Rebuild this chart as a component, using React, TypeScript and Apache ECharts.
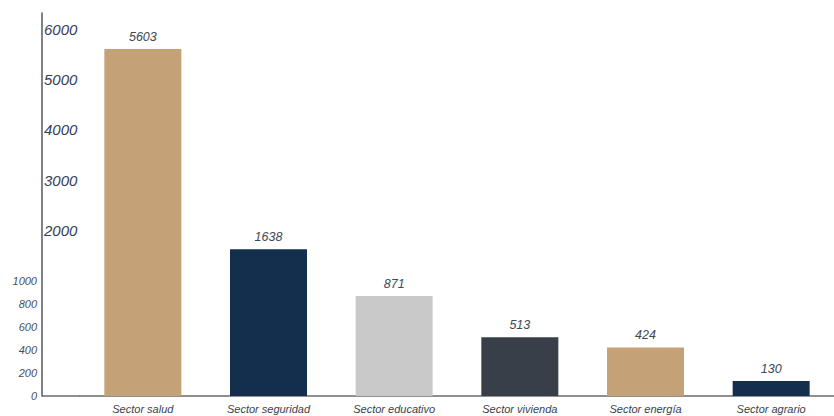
import React, { useEffect, useRef } from "react";
import * as echarts from "echarts";

const categories = [
  "Sector salud",
  "Sector seguridad",
  "Sector educativo",
  "Sector vivienda",
  "Sector energía",
  "Sector agrario",
];
const values = [5603, 1638, 871, 513, 424, 130];
const barColors = ["#C5A178", "#142F4E", "#C9C9C9", "#383F48", "#C5A178", "#142F4E"];
const lowerTicks = [0, 200, 400, 600, 800, 1000];
const upperTicks = [2000, 3000, 4000, 5000, 6000];

// broken scale: 0-1000 linear, above 1000 compressed
const BREAK = 1000;
const UPPER_FACTOR = 0.44;
const toAxis = (v: number) => (v <= BREAK ? v : BREAK + (v - BREAK) * UPPER_FACTOR);
const fromAxis = (t: number) => (t <= BREAK ? t : BREAK + (t - BREAK) / UPPER_FACTOR);

const AXIS_MAX = 3340;
const FONT = "'Liberation Sans Narrow', 'Liberation Sans', Arial, sans-serif";

export default function App() {
  const ref = useRef<HTMLDivElement>(null);
  useEffect(() => {
    document.body.style.margin = "0";
    if (!ref.current) return;
    const chart = echarts.init(ref.current, undefined, { renderer: "svg" });
    chart.setOption({
      animation: false,
      backgroundColor: "#ffffff",
      grid: { left: 80, width: 756, top: 13, bottom: 20 },
      xAxis: {
        type: "category",
        data: categories,
        axisLine: { show: true, lineStyle: { color: "#6b6b6b", width: 1.5 } },
        axisTick: { show: false },
        axisLabel: {
          color: "#3a3f4a",
          fontSize: 11,
          fontStyle: "italic",
          fontFamily: FONT,
          margin: 7,
          interval: 0,
        },
      },
      yAxis: [
        {
          type: "value",
          min: 0,
          max: AXIS_MAX,
          position: "left",
          offset: 38,
          axisLine: { show: true, lineStyle: { color: "#555a60", width: 1.5 } },
          axisTick: { show: false },
          splitLine: { show: false },
          axisLabel: {
            customValues: lowerTicks.map(toAxis),
            formatter: (v: number) => String(Math.round(fromAxis(v))),
            color: "#4a4e5a",
            fontSize: 11,
            fontStyle: "italic",
            fontFamily: FONT,
            margin: 5,
          },
        },
        {
          type: "value",
          min: 0,
          max: AXIS_MAX,
          position: "left",
          offset: 38,
          axisLine: { show: false },
          axisTick: { show: false },
          splitLine: { show: false },
          axisLabel: {
            inside: true,
            customValues: upperTicks.map(toAxis),
            formatter: (v: number) => String(Math.round(fromAxis(v))),
            color: "#35405a",
            fontSize: 15,
            fontStyle: "italic",
            fontFamily: FONT,
            margin: 2,
          },
        },
      ],
      series: [
        {
          type: "bar",
          yAxisIndex: 0,
          barWidth: 77,
          data: values.map((v, i) => ({
            value: toAxis(v),
            itemStyle: { color: barColors[i] },
          })),
          label: {
            show: true,
            position: "top",
            distance: 6,
            formatter: (p: any) => String(values[p.dataIndex]),
            color: "#404855",
            fontSize: 12.5,
            fontStyle: "italic",
            fontFamily: FONT,
          },
        },
      ],
      graphic: [
        {
          type: "line",
          shape: { x1: 42, y1: 396, x2: 80, y2: 396 },
          style: { stroke: "#6b6b6b", lineWidth: 1.5 },
        },
      ],
    });
    return () => chart.dispose();
  }, []);
  return <div ref={ref} style={{ width: 834, height: 416 }} />;
}
